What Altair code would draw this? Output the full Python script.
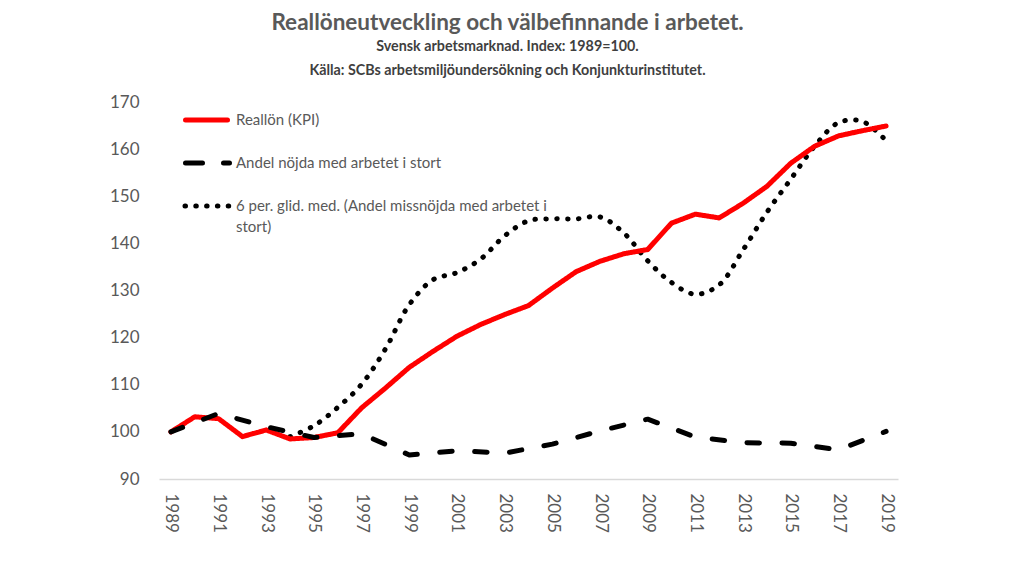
import altair as alt
import pandas as pd

# ---- data ----
years_lon = list(range(1989, 2020))
reallon = [100.0, 103.2, 102.8, 99.0, 100.4, 98.5, 98.8, 99.8, 105.1, 109.3,
           113.7, 117.1, 120.3, 122.8, 124.9, 126.8, 130.5, 134.0, 136.2, 137.8,
           138.7, 144.3, 146.2, 145.4, 148.5, 152.1, 157.0, 160.6, 162.8, 163.9,
           164.9]

years_nojd = list(range(1989, 2020, 2))
nojda = [100.0, 103.9, 101.1, 98.8, 99.6, 95.1, 96.0, 95.5, 97.4, 100.2,
         102.7, 98.9, 97.7, 97.6, 96.2, 100.1]

years_ma = list(range(1994, 2020))
glid = [99.0, 101.3, 105.2, 110.1, 117.6, 127.0, 132.3, 133.8, 136.7, 141.6,
        144.8, 145.2, 145.2, 145.6, 142.2, 136.3, 131.7, 129.2, 131.2, 138.6,
        146.6, 153.6, 160.6, 165.6, 165.9, 161.8]

s1 = "Reallön (KPI)"
s2 = "Andel nöjda med arbetet i stort"
s3 = "6 per. glid. med. (Andel missnöjda med arbetet i stort)"
s3_lines = ["6 per. glid. med. (Andel missnöjda med arbetet i", "stort)"]
series = [s1, s2, s3]

x_ticks = list(range(1989, 2020, 2))
y_ticks = list(range(90, 171, 10))

df = pd.concat([
    pd.DataFrame({"year": years_lon, "value": reallon, "serie": s1}),
    pd.DataFrame({"year": years_nojd, "value": nojda, "serie": s2}),
    pd.DataFrame({"year": years_ma, "value": glid, "serie": s3}),
], ignore_index=True)

FONT = "Lato"
GRAY = "#595959"
RED = "#ff0000"
LW = 5
DASH_LINE = [12.5, 22.5]
DOT_LINE = [0.5, 10.4]

x_enc = alt.X("year:Q",
              scale=alt.Scale(domain=[1988.5, 2019.5], nice=False, zero=False),
              axis=alt.Axis(values=x_ticks, format="d", title=None, labelAngle=90,
                            labelFontSize=17, labelColor=GRAY, labelFont=FONT,
                            labelPadding=14, ticks=False, grid=False,
                            domainColor="#d9d9d9", domainWidth=1.5))
y_enc = alt.Y("value:Q",
              scale=alt.Scale(domain=[90, 170], nice=False, zero=False),
              axis=alt.Axis(values=y_ticks, title=None, labelFontSize=17,
                            labelColor=GRAY, labelFont=FONT, labelPadding=20,
                            ticks=False, grid=False, domain=False))

color_enc = alt.Color("serie:N",
                      scale=alt.Scale(domain=series, range=[RED, "#000000", "#000000"]),
                      legend=None)
dash_enc = alt.StrokeDash("serie:N",
                          scale=alt.Scale(domain=series, range=[[1, 0], DASH_LINE, DOT_LINE]),
                          legend=None)

base = alt.Chart(df).encode(x=x_enc, y=y_enc, color=color_enc, strokeDash=dash_enc)

straight = base.mark_line(strokeWidth=LW, strokeCap="round", strokeJoin="round").transform_filter(
    alt.datum.serie != s3)
smooth = base.mark_line(strokeWidth=LW, strokeCap="round", interpolate="catmull-rom").transform_filter(
    alt.datum.serie == s3)

# ---- legend (drawn inside the plot, top left) ----
one = pd.DataFrame({"k": [0]})
leg = alt.Chart(one)
leg_rows = [18, 61, 104]
leg_red = leg.mark_rule(color=RED, strokeWidth=LW, strokeCap="round").encode(
    x=alt.value(26.5), x2=alt.value(68.5), y=alt.value(leg_rows[0]))
leg_dash = leg.mark_rule(color="black", strokeWidth=LW, strokeCap="round",
                         strokeDash=[17, 21]).encode(
    x=alt.value(26.5), x2=alt.value(70.5), y=alt.value(leg_rows[1]))
leg_dot = leg.mark_rule(color="black", strokeWidth=LW, strokeCap="round",
                        strokeDash=[0.5, 10.3]).encode(
    x=alt.value(26), x2=alt.value(70), y=alt.value(leg_rows[2]))

def leg_text(txt, y):
    return leg.mark_text(align="left", baseline="middle", font=FONT, fontSize=15,
                         color=GRAY).encode(x=alt.value(77), y=alt.value(y),
                                            text=alt.value(txt))

texts = [leg_text(s1, leg_rows[0]), leg_text(s2, leg_rows[1]),
         leg_text(s3_lines[0], leg_rows[2]), leg_text(s3_lines[1], leg_rows[2] + 21)]

chart = alt.layer(smooth, straight, leg_red, leg_dash, leg_dot, *texts).properties(
    width=739, height=377,
    autosize=alt.AutoSizeParams(type="none"),
    padding={"left": 151, "top": 94, "right": 118, "bottom": 70},
    title=alt.TitleParams(
        text="Reallöneutveckling och välbefinnande i arbetet.",
        subtitle=["Svensk arbetsmarknad. Index: 1989=100.",
                  "Källa: SCBs arbetsmiljöundersökning och Konjunkturinstitutet."],
        anchor="middle", dx=-21, offset=15,
        font=FONT, fontSize=22.5, fontWeight="bold", color=GRAY,
        subtitleFont=FONT, subtitleFontSize=14.3, subtitleFontWeight="bold",
        subtitleColor="#3f3f3f", subtitlePadding=6, subtitleLineHeight=23.5),
).configure_view(stroke=None)

chart.save("out.html", embed_options={"renderer": "svg", "actions": False})
